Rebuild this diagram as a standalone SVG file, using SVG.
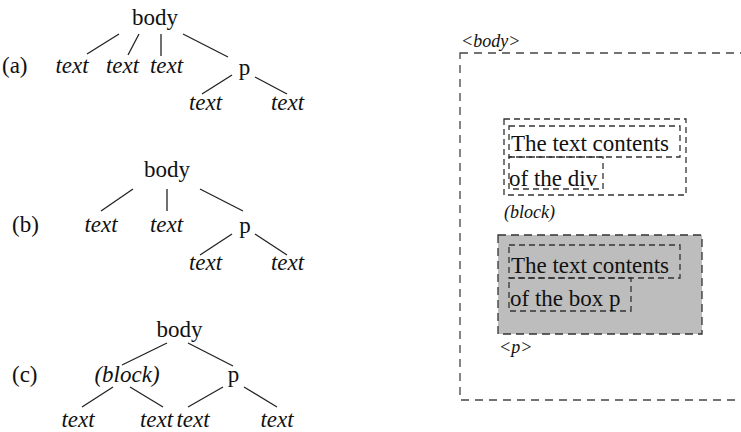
<svg xmlns="http://www.w3.org/2000/svg" width="741" height="432" viewBox="0 0 741 432">
<style>
.t{font-family:"Liberation Serif","Times New Roman",serif;font-size:23px;fill:#111}
.i{font-style:italic}
.m{text-anchor:middle}
.e{stroke:#222;stroke-width:1.3;fill:none}
.big{fill:none;stroke:#444;stroke-width:1.3;stroke-dasharray:8 6}
.box{fill:none;stroke:#333;stroke-width:1.3;stroke-dasharray:6 4}
.bt{font-family:"Liberation Serif","Times New Roman",serif;font-size:23px;fill:#111}
.lab{font-family:"Liberation Serif","Times New Roman",serif;font-style:italic;font-size:18px;fill:#111}
</style>
<rect width="741" height="432" fill="#fff"/>
<!-- Tree (a) -->
<g id="label-a"><text class="t" x="2" y="73">(a)</text></g>
<g id="a-body"><text class="t m" x="155" y="25">body</text></g>
<g id="a-text1"><text class="t i m" x="72" y="73">text</text></g>
<g id="a-text2"><text class="t i m" x="122.5" y="73">text</text></g>
<g id="a-text3"><text class="t i m" x="166.5" y="73">text</text></g>
<g id="a-p"><text class="t m" x="244.5" y="75">p</text></g>
<g id="a-text4"><text class="t i m" x="205.5" y="110">text</text></g>
<g id="a-text5"><text class="t i m" x="287.5" y="110">text</text></g>
<!-- Tree (b) -->
<g id="label-b"><text class="t" x="12" y="232">(b)</text></g>
<g id="b-body"><text class="t m" x="167" y="177">body</text></g>
<g id="b-text1"><text class="t i m" x="101" y="232">text</text></g>
<g id="b-text2"><text class="t i m" x="166.5" y="232">text</text></g>
<g id="b-p"><text class="t m" x="245" y="233">p</text></g>
<g id="b-text3"><text class="t i m" x="205.5" y="270">text</text></g>
<g id="b-text4"><text class="t i m" x="287.5" y="270">text</text></g>
<!-- Tree (c) -->
<g id="label-c"><text class="t" x="12" y="382">(c)</text></g>
<g id="c-body"><text class="t m" x="179.5" y="337">body</text></g>
<g id="c-block"><text class="t i m" x="127" y="382">(block)</text></g>
<g id="c-p"><text class="t m" x="233.5" y="382">p</text></g>
<g id="c-text1"><text class="t i m" x="78" y="427">text</text></g>
<g id="c-text2"><text class="t i m" x="156.5" y="427">text</text></g>
<g id="c-text3"><text class="t i m" x="193" y="427">text</text></g>
<g id="c-text4"><text class="t i m" x="277" y="427">text</text></g>
<g id="connectors">
<line class="e" x1="119" y1="34" x2="87" y2="54"/>
<line class="e" x1="139" y1="34" x2="128" y2="55"/>
<line class="e" x1="161" y1="34" x2="161" y2="56"/>
<line class="e" x1="183" y1="34" x2="228" y2="57"/>
<line class="e" x1="232" y1="75" x2="202" y2="94"/>
<line class="e" x1="255" y1="77" x2="287" y2="94"/>
<line class="e" x1="133" y1="189" x2="101" y2="211"/>
<line class="e" x1="167" y1="189" x2="167" y2="211"/>
<line class="e" x1="200" y1="189" x2="243" y2="211"/>
<line class="e" x1="232" y1="234" x2="200" y2="255"/>
<line class="e" x1="255" y1="234" x2="287" y2="255"/>
<line class="e" x1="167" y1="343" x2="122" y2="365"/>
<line class="e" x1="188" y1="343" x2="233" y2="366"/>
<line class="e" x1="113" y1="387" x2="82" y2="407"/>
<line class="e" x1="130" y1="387" x2="163" y2="407"/>
<line class="e" x1="223" y1="387" x2="188" y2="407"/>
<line class="e" x1="244" y1="387" x2="277" y2="407"/>
</g>
<!-- Box diagram -->
<g id="body-box">
<rect class="big" x="460" y="53" width="300" height="347"/>
<text class="lab" x="461" y="47">&lt;body&gt;</text>
</g>
<g id="div-block">
<rect class="box" x="504" y="119" width="182" height="76"/>
<rect class="box" x="509" y="126" width="171" height="31"/>
<rect class="box" x="509" y="157" width="94" height="32"/>
<text class="bt" x="511" y="151" textLength="158">The text contents</text>
<text class="bt" x="509" y="186">of the div</text>
<text class="lab" x="504" y="218">(block)</text>
</g>
<g id="p-box">
<rect x="498" y="235" width="204" height="99" fill="#bdbdbd" stroke="#333" stroke-width="1.3" stroke-dasharray="8 5"/>
<rect class="box" x="509" y="245" width="171" height="33"/>
<rect class="box" x="509" y="278" width="122" height="33"/>
<text class="bt" x="511" y="273" textLength="158">The text contents</text>
<text class="bt" x="510" y="306">of the box p</text>
<text class="lab" x="499" y="353">&lt;p&gt;</text>
</g>
</svg>
